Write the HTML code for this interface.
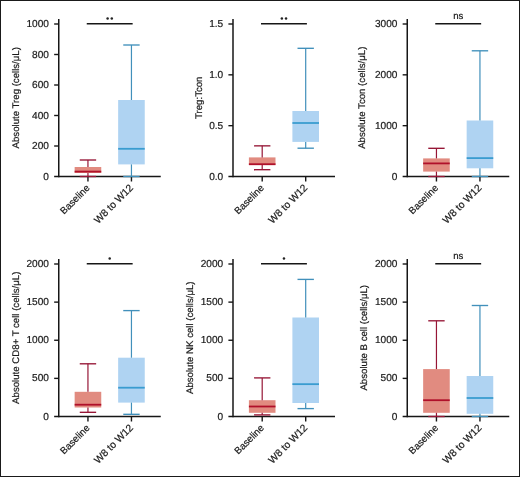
<!DOCTYPE html>
<html><head><meta charset="utf-8"><style>
html,body{margin:0;padding:0;background:#fff;}
body{width:520px;height:477px;overflow:hidden;}
svg{display:block;font-family:"Liberation Sans", sans-serif;will-change:transform;}
text{fill:#1a1a1a;stroke:#1a1a1a;stroke-width:0.2px;text-rendering:geometricPrecision;}
</style></head><body>
<svg width="520" height="477" viewBox="0 0 520 477">
<rect x="0" y="0" width="520" height="477" fill="#fff"/>
<g><line x1="58.75" y1="19" x2="58.75" y2="177.25" stroke="#161616" stroke-width="1.5"/><line x1="54.15" y1="176.5" x2="160.75" y2="176.5" stroke="#161616" stroke-width="1.5"/><text x="48.95" y="179.5" text-anchor="end" font-size="10.1">0</text><line x1="54.15" y1="146" x2="58.75" y2="146" stroke="#161616" stroke-width="1.4"/><text x="48.95" y="149" text-anchor="end" font-size="10.1">200</text><line x1="54.15" y1="115.5" x2="58.75" y2="115.5" stroke="#161616" stroke-width="1.4"/><text x="48.95" y="118.5" text-anchor="end" font-size="10.1">400</text><line x1="54.15" y1="85" x2="58.75" y2="85" stroke="#161616" stroke-width="1.4"/><text x="48.95" y="88" text-anchor="end" font-size="10.1">600</text><line x1="54.15" y1="54.5" x2="58.75" y2="54.5" stroke="#161616" stroke-width="1.4"/><text x="48.95" y="57.5" text-anchor="end" font-size="10.1">800</text><line x1="54.15" y1="24" x2="58.75" y2="24" stroke="#161616" stroke-width="1.4"/><text x="48.95" y="27" text-anchor="end" font-size="10.1">1000</text><line x1="87.95" y1="176.5" x2="87.95" y2="181.5" stroke="#161616" stroke-width="1.4"/><line x1="131.45" y1="176.5" x2="131.45" y2="181.5" stroke="#161616" stroke-width="1.4"/><rect x="74.65" y="167" width="26.6" height="6" fill="#e18b80"/><line x1="87.95" y1="160" x2="87.95" y2="167" stroke="#961636" stroke-width="1.2"/><line x1="87.95" y1="173" x2="87.95" y2="176.5" stroke="#961636" stroke-width="1.2"/><line x1="79.75" y1="160" x2="96.15" y2="160" stroke="#961636" stroke-width="1.35"/><line x1="79.75" y1="176.5" x2="96.15" y2="176.5" stroke="#961636" stroke-width="1.35"/><line x1="74.65" y1="171.6" x2="101.25" y2="171.6" stroke="#b0102a" stroke-width="1.8"/><rect x="118.15" y="100" width="26.6" height="64.4" fill="#afd3f2"/><line x1="131.45" y1="45" x2="131.45" y2="100" stroke="#4190bb" stroke-width="1.2"/><line x1="131.45" y1="164.4" x2="131.45" y2="176.5" stroke="#4190bb" stroke-width="1.2"/><line x1="123.25" y1="45" x2="139.65" y2="45" stroke="#4190bb" stroke-width="1.35"/><line x1="123.25" y1="176.5" x2="139.65" y2="176.5" stroke="#4190bb" stroke-width="1.35"/><line x1="118.15" y1="148.8" x2="144.75" y2="148.8" stroke="#3a9cd0" stroke-width="1.8"/><text transform="translate(19.3,97.75) rotate(-90)" text-anchor="middle" font-size="9.65">Absolute Treg (cells/μL)</text><line x1="86.75" y1="23.8" x2="132.65" y2="23.8" stroke="#161616" stroke-width="1.4"/><circle cx="107.6" cy="18.4" r="1.25" fill="#222"/><circle cx="111.8" cy="18.4" r="1.25" fill="#222"/><text transform="translate(90.35,188.5) rotate(-45)" text-anchor="end" font-size="9.7">Baseline</text><text transform="translate(133.85,188.5) rotate(-45)" text-anchor="end" font-size="10.2">W8 to W12</text></g>
<g><line x1="233" y1="19" x2="233" y2="177.25" stroke="#161616" stroke-width="1.5"/><line x1="228.4" y1="176.5" x2="335" y2="176.5" stroke="#161616" stroke-width="1.5"/><text x="223.2" y="179.5" text-anchor="end" font-size="10.1">0.0</text><line x1="228.4" y1="125.67" x2="233" y2="125.67" stroke="#161616" stroke-width="1.4"/><text x="223.2" y="128.67" text-anchor="end" font-size="10.1">0.5</text><line x1="228.4" y1="74.83" x2="233" y2="74.83" stroke="#161616" stroke-width="1.4"/><text x="223.2" y="77.83" text-anchor="end" font-size="10.1">1.0</text><line x1="228.4" y1="24" x2="233" y2="24" stroke="#161616" stroke-width="1.4"/><text x="223.2" y="27" text-anchor="end" font-size="10.1">1.5</text><line x1="262.2" y1="176.5" x2="262.2" y2="181.5" stroke="#161616" stroke-width="1.4"/><line x1="305.7" y1="176.5" x2="305.7" y2="181.5" stroke="#161616" stroke-width="1.4"/><rect x="248.9" y="157.4" width="26.6" height="7.7" fill="#e18b80"/><line x1="262.2" y1="145.85" x2="262.2" y2="157.4" stroke="#961636" stroke-width="1.2"/><line x1="262.2" y1="165.1" x2="262.2" y2="169.7" stroke="#961636" stroke-width="1.2"/><line x1="254" y1="145.85" x2="270.4" y2="145.85" stroke="#961636" stroke-width="1.35"/><line x1="254" y1="169.7" x2="270.4" y2="169.7" stroke="#961636" stroke-width="1.35"/><line x1="248.9" y1="164.2" x2="275.5" y2="164.2" stroke="#b0102a" stroke-width="1.8"/><rect x="292.4" y="111" width="26.6" height="30.9" fill="#afd3f2"/><line x1="305.7" y1="48.3" x2="305.7" y2="111" stroke="#4190bb" stroke-width="1.2"/><line x1="305.7" y1="141.9" x2="305.7" y2="148.2" stroke="#4190bb" stroke-width="1.2"/><line x1="297.5" y1="48.3" x2="313.9" y2="48.3" stroke="#4190bb" stroke-width="1.35"/><line x1="297.5" y1="148.2" x2="313.9" y2="148.2" stroke="#4190bb" stroke-width="1.35"/><line x1="292.4" y1="123" x2="319" y2="123" stroke="#3a9cd0" stroke-width="1.8"/><text transform="translate(201.9,97.75) rotate(-90)" text-anchor="middle" font-size="9.65">Treg:Tcon</text><line x1="261" y1="23.8" x2="306.9" y2="23.8" stroke="#161616" stroke-width="1.4"/><circle cx="281.85" cy="18.4" r="1.25" fill="#222"/><circle cx="286.05" cy="18.4" r="1.25" fill="#222"/><text transform="translate(264.6,188.5) rotate(-45)" text-anchor="end" font-size="9.7">Baseline</text><text transform="translate(308.1,188.5) rotate(-45)" text-anchor="end" font-size="10.2">W8 to W12</text></g>
<g><line x1="407.25" y1="19" x2="407.25" y2="177.25" stroke="#161616" stroke-width="1.5"/><line x1="402.65" y1="176.5" x2="509.25" y2="176.5" stroke="#161616" stroke-width="1.5"/><text x="397.45" y="179.5" text-anchor="end" font-size="10.1">0</text><line x1="402.65" y1="125.67" x2="407.25" y2="125.67" stroke="#161616" stroke-width="1.4"/><text x="397.45" y="128.67" text-anchor="end" font-size="10.1">1000</text><line x1="402.65" y1="74.83" x2="407.25" y2="74.83" stroke="#161616" stroke-width="1.4"/><text x="397.45" y="77.83" text-anchor="end" font-size="10.1">2000</text><line x1="402.65" y1="24" x2="407.25" y2="24" stroke="#161616" stroke-width="1.4"/><text x="397.45" y="27" text-anchor="end" font-size="10.1">3000</text><line x1="436.45" y1="176.5" x2="436.45" y2="181.5" stroke="#161616" stroke-width="1.4"/><line x1="479.95" y1="176.5" x2="479.95" y2="181.5" stroke="#161616" stroke-width="1.4"/><rect x="423.15" y="158.4" width="26.6" height="13.2" fill="#e18b80"/><line x1="436.45" y1="148.3" x2="436.45" y2="158.4" stroke="#961636" stroke-width="1.2"/><line x1="436.45" y1="171.6" x2="436.45" y2="176.5" stroke="#961636" stroke-width="1.2"/><line x1="428.25" y1="148.3" x2="444.65" y2="148.3" stroke="#961636" stroke-width="1.35"/><line x1="428.25" y1="176.5" x2="444.65" y2="176.5" stroke="#961636" stroke-width="1.35"/><line x1="423.15" y1="163.4" x2="449.75" y2="163.4" stroke="#b0102a" stroke-width="1.8"/><rect x="466.65" y="120.5" width="26.6" height="47.8" fill="#afd3f2"/><line x1="479.95" y1="50.8" x2="479.95" y2="120.5" stroke="#4190bb" stroke-width="1.2"/><line x1="479.95" y1="168.3" x2="479.95" y2="176.5" stroke="#4190bb" stroke-width="1.2"/><line x1="471.75" y1="50.8" x2="488.15" y2="50.8" stroke="#4190bb" stroke-width="1.35"/><line x1="471.75" y1="176.5" x2="488.15" y2="176.5" stroke="#4190bb" stroke-width="1.35"/><line x1="466.65" y1="158.1" x2="493.25" y2="158.1" stroke="#3a9cd0" stroke-width="1.8"/><text transform="translate(365.4,97.75) rotate(-90)" text-anchor="middle" font-size="9.65">Absolute Tcon (cells/μL)</text><line x1="435.25" y1="23.8" x2="481.15" y2="23.8" stroke="#161616" stroke-width="1.4"/><text x="458.2" y="18.8" text-anchor="middle" font-size="9.6">ns</text><text transform="translate(438.85,188.5) rotate(-45)" text-anchor="end" font-size="9.7">Baseline</text><text transform="translate(482.35,188.5) rotate(-45)" text-anchor="end" font-size="10.2">W8 to W12</text></g>
<g><line x1="58.75" y1="259" x2="58.75" y2="417.25" stroke="#161616" stroke-width="1.5"/><line x1="54.15" y1="416.5" x2="160.75" y2="416.5" stroke="#161616" stroke-width="1.5"/><text x="48.95" y="419.5" text-anchor="end" font-size="10.1">0</text><line x1="54.15" y1="378.38" x2="58.75" y2="378.38" stroke="#161616" stroke-width="1.4"/><text x="48.95" y="381.38" text-anchor="end" font-size="10.1">500</text><line x1="54.15" y1="340.25" x2="58.75" y2="340.25" stroke="#161616" stroke-width="1.4"/><text x="48.95" y="343.25" text-anchor="end" font-size="10.1">1000</text><line x1="54.15" y1="302.12" x2="58.75" y2="302.12" stroke="#161616" stroke-width="1.4"/><text x="48.95" y="305.12" text-anchor="end" font-size="10.1">1500</text><line x1="54.15" y1="264" x2="58.75" y2="264" stroke="#161616" stroke-width="1.4"/><text x="48.95" y="267" text-anchor="end" font-size="10.1">2000</text><line x1="87.95" y1="416.5" x2="87.95" y2="421.5" stroke="#161616" stroke-width="1.4"/><line x1="131.45" y1="416.5" x2="131.45" y2="421.5" stroke="#161616" stroke-width="1.4"/><rect x="74.65" y="391.8" width="26.6" height="15.7" fill="#e18b80"/><line x1="87.95" y1="363.8" x2="87.95" y2="391.8" stroke="#961636" stroke-width="1.2"/><line x1="87.95" y1="407.5" x2="87.95" y2="412.3" stroke="#961636" stroke-width="1.2"/><line x1="79.75" y1="363.8" x2="96.15" y2="363.8" stroke="#961636" stroke-width="1.35"/><line x1="79.75" y1="412.3" x2="96.15" y2="412.3" stroke="#961636" stroke-width="1.35"/><line x1="74.65" y1="404.7" x2="101.25" y2="404.7" stroke="#b0102a" stroke-width="1.8"/><rect x="118.15" y="357.7" width="26.6" height="44.9" fill="#afd3f2"/><line x1="131.45" y1="310.6" x2="131.45" y2="357.7" stroke="#4190bb" stroke-width="1.2"/><line x1="131.45" y1="402.6" x2="131.45" y2="414.3" stroke="#4190bb" stroke-width="1.2"/><line x1="123.25" y1="310.6" x2="139.65" y2="310.6" stroke="#4190bb" stroke-width="1.35"/><line x1="123.25" y1="414.3" x2="139.65" y2="414.3" stroke="#4190bb" stroke-width="1.35"/><line x1="118.15" y1="387.7" x2="144.75" y2="387.7" stroke="#3a9cd0" stroke-width="1.8"/><text transform="translate(19.3,337.75) rotate(-90)" text-anchor="middle" font-size="9.65">Absolute CD8+ T cell (cells/μL)</text><line x1="86.75" y1="263.8" x2="132.65" y2="263.8" stroke="#161616" stroke-width="1.4"/><circle cx="109.7" cy="258.4" r="1.25" fill="#222"/><text transform="translate(90.35,428.5) rotate(-45)" text-anchor="end" font-size="9.7">Baseline</text><text transform="translate(133.85,428.5) rotate(-45)" text-anchor="end" font-size="10.2">W8 to W12</text></g>
<g><line x1="233" y1="259" x2="233" y2="417.25" stroke="#161616" stroke-width="1.5"/><line x1="228.4" y1="416.5" x2="335" y2="416.5" stroke="#161616" stroke-width="1.5"/><text x="223.2" y="419.5" text-anchor="end" font-size="10.1">0</text><line x1="228.4" y1="378.38" x2="233" y2="378.38" stroke="#161616" stroke-width="1.4"/><text x="223.2" y="381.38" text-anchor="end" font-size="10.1">500</text><line x1="228.4" y1="340.25" x2="233" y2="340.25" stroke="#161616" stroke-width="1.4"/><text x="223.2" y="343.25" text-anchor="end" font-size="10.1">1000</text><line x1="228.4" y1="302.12" x2="233" y2="302.12" stroke="#161616" stroke-width="1.4"/><text x="223.2" y="305.12" text-anchor="end" font-size="10.1">1500</text><line x1="228.4" y1="264" x2="233" y2="264" stroke="#161616" stroke-width="1.4"/><text x="223.2" y="267" text-anchor="end" font-size="10.1">2000</text><line x1="262.2" y1="416.5" x2="262.2" y2="421.5" stroke="#161616" stroke-width="1.4"/><line x1="305.7" y1="416.5" x2="305.7" y2="421.5" stroke="#161616" stroke-width="1.4"/><rect x="248.9" y="400.2" width="26.6" height="12.6" fill="#e18b80"/><line x1="262.2" y1="377.9" x2="262.2" y2="400.2" stroke="#961636" stroke-width="1.2"/><line x1="262.2" y1="412.8" x2="262.2" y2="414.9" stroke="#961636" stroke-width="1.2"/><line x1="254" y1="377.9" x2="270.4" y2="377.9" stroke="#961636" stroke-width="1.35"/><line x1="254" y1="414.9" x2="270.4" y2="414.9" stroke="#961636" stroke-width="1.35"/><line x1="248.9" y1="406.5" x2="275.5" y2="406.5" stroke="#b0102a" stroke-width="1.8"/><rect x="292.4" y="317.5" width="26.6" height="85.5" fill="#afd3f2"/><line x1="305.7" y1="279.4" x2="305.7" y2="317.5" stroke="#4190bb" stroke-width="1.2"/><line x1="305.7" y1="403" x2="305.7" y2="408.6" stroke="#4190bb" stroke-width="1.2"/><line x1="297.5" y1="279.4" x2="313.9" y2="279.4" stroke="#4190bb" stroke-width="1.35"/><line x1="297.5" y1="408.6" x2="313.9" y2="408.6" stroke="#4190bb" stroke-width="1.35"/><line x1="292.4" y1="384.15" x2="319" y2="384.15" stroke="#3a9cd0" stroke-width="1.8"/><text transform="translate(192.5,337.75) rotate(-90)" text-anchor="middle" font-size="9.65">Absolute NK cell (cells/μL)</text><line x1="261" y1="263.8" x2="306.9" y2="263.8" stroke="#161616" stroke-width="1.4"/><circle cx="283.95" cy="258.4" r="1.25" fill="#222"/><text transform="translate(264.6,428.5) rotate(-45)" text-anchor="end" font-size="9.7">Baseline</text><text transform="translate(308.1,428.5) rotate(-45)" text-anchor="end" font-size="10.2">W8 to W12</text></g>
<g><line x1="407.25" y1="259" x2="407.25" y2="417.25" stroke="#161616" stroke-width="1.5"/><line x1="402.65" y1="416.5" x2="509.25" y2="416.5" stroke="#161616" stroke-width="1.5"/><text x="397.45" y="419.5" text-anchor="end" font-size="10.1">0</text><line x1="402.65" y1="378.38" x2="407.25" y2="378.38" stroke="#161616" stroke-width="1.4"/><text x="397.45" y="381.38" text-anchor="end" font-size="10.1">500</text><line x1="402.65" y1="340.25" x2="407.25" y2="340.25" stroke="#161616" stroke-width="1.4"/><text x="397.45" y="343.25" text-anchor="end" font-size="10.1">1000</text><line x1="402.65" y1="302.12" x2="407.25" y2="302.12" stroke="#161616" stroke-width="1.4"/><text x="397.45" y="305.12" text-anchor="end" font-size="10.1">1500</text><line x1="402.65" y1="264" x2="407.25" y2="264" stroke="#161616" stroke-width="1.4"/><text x="397.45" y="267" text-anchor="end" font-size="10.1">2000</text><line x1="436.45" y1="416.5" x2="436.45" y2="421.5" stroke="#161616" stroke-width="1.4"/><line x1="479.95" y1="416.5" x2="479.95" y2="421.5" stroke="#161616" stroke-width="1.4"/><rect x="423.15" y="369.1" width="26.6" height="43.7" fill="#e18b80"/><line x1="436.45" y1="320.8" x2="436.45" y2="369.1" stroke="#961636" stroke-width="1.2"/><line x1="436.45" y1="412.8" x2="436.45" y2="416.5" stroke="#961636" stroke-width="1.2"/><line x1="428.25" y1="320.8" x2="444.65" y2="320.8" stroke="#961636" stroke-width="1.35"/><line x1="428.25" y1="416.5" x2="444.65" y2="416.5" stroke="#961636" stroke-width="1.35"/><line x1="423.15" y1="400.2" x2="449.75" y2="400.2" stroke="#b0102a" stroke-width="1.8"/><rect x="466.65" y="376" width="26.6" height="37.8" fill="#afd3f2"/><line x1="479.95" y1="305.5" x2="479.95" y2="376" stroke="#4190bb" stroke-width="1.2"/><line x1="479.95" y1="413.8" x2="479.95" y2="416.5" stroke="#4190bb" stroke-width="1.2"/><line x1="471.75" y1="305.5" x2="488.15" y2="305.5" stroke="#4190bb" stroke-width="1.35"/><line x1="471.75" y1="416.5" x2="488.15" y2="416.5" stroke="#4190bb" stroke-width="1.35"/><line x1="466.65" y1="398" x2="493.25" y2="398" stroke="#3a9cd0" stroke-width="1.8"/><text transform="translate(367.3,337.75) rotate(-90)" text-anchor="middle" font-size="9.65">Absolute B cell (cells/μL)</text><line x1="435.25" y1="263.8" x2="481.15" y2="263.8" stroke="#161616" stroke-width="1.4"/><text x="458.2" y="258.8" text-anchor="middle" font-size="9.6">ns</text><text transform="translate(438.85,428.5) rotate(-45)" text-anchor="end" font-size="9.7">Baseline</text><text transform="translate(482.35,428.5) rotate(-45)" text-anchor="end" font-size="10.2">W8 to W12</text></g>
<rect x="0.5" y="0.5" width="519" height="476" fill="none" stroke="#1a1a1a" stroke-width="1"/>
</svg>
</body></html>
